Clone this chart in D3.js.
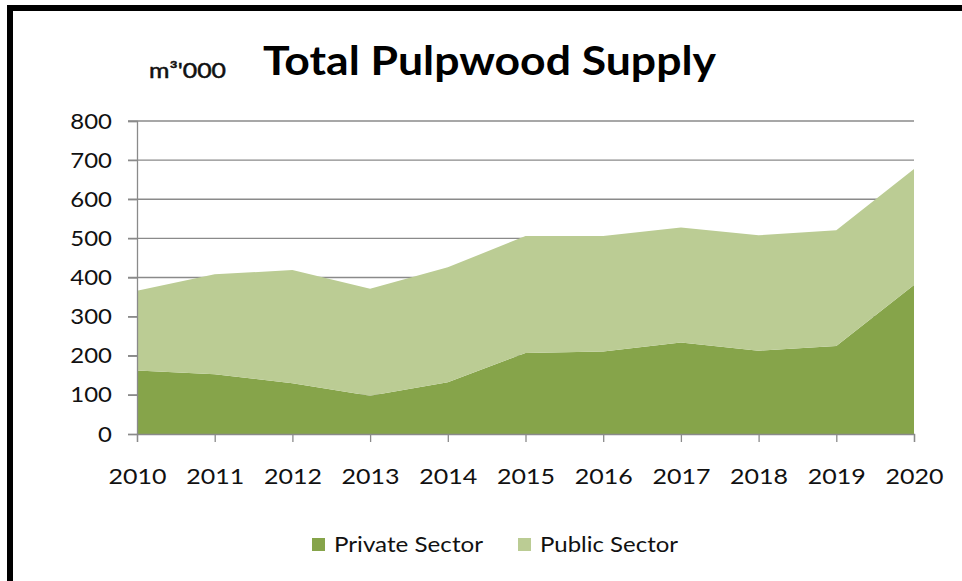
<!DOCTYPE html>
<html><head><meta charset="utf-8">
<script src="https://cdn.jsdelivr.net/npm/d3@7"></script>
<style>body{margin:0;background:#fff}svg{display:block}</style>
</head><body>
<svg id="c" width="962" height="581"></svg>
<script>
const years = [2010,2011,2012,2013,2014,2015,2016,2017,2018,2019,2020];
const privateSector = [162,153,130,98,132,207,211,234,213,225,381];
const publicSector = [204,255,289,273,294,299,295,294,295,296,296];
const yTicks = [0,100,200,300,400,500,600,700,800];
const seriesNames = ["Private Sector","Public Sector"];
const colors = ["#86A44A","#BBCC94"];

const svg = d3.select("#c");
const font = "Lato, 'Open Sans', sans-serif";

// frame
svg.append("rect").attr("x",10).attr("y",8).attr("width",980).attr("height",600)
  .attr("fill","none").attr("stroke","#000").attr("stroke-width",6);

const x = d3.scaleLinear().domain([2010,2020]).range([137,914]);
const y = d3.scaleLinear().domain([0,800]).range([434,121]);

const table = years.map((yr,i)=>({year:yr,"Private Sector":privateSector[i],"Public Sector":publicSector[i]}));
const stack = d3.stack().keys(seriesNames)(table);

// gridlines
svg.append("g").selectAll("line").data(yTicks.filter(d=>d>0)).join("line")
  .attr("x1",128).attr("x2",914).attr("y1",d=>y(d)).attr("y2",d=>y(d))
  .attr("stroke","#8a8a8a").attr("stroke-width",1.3);

const area = d3.area().x(d=>x(d.data.year)).y0(d=>y(d[0])).y1(d=>y(d[1]));
svg.append("g").selectAll("path").data(stack).join("path")
  .attr("d",area).attr("fill",(d,i)=>colors[i]);

// y axis
const ya = svg.append("g").attr("transform","translate(137,0)")
  .call(d3.axisLeft(y).tickValues(yTicks).tickSize(9).tickPadding(16).tickFormat(d3.format("d")));
ya.select(".domain").attr("stroke","#8a8a8a").attr("stroke-width",1.3);
ya.selectAll(".tick line").attr("stroke","#8a8a8a").attr("stroke-width",1.3);
ya.selectAll("text").attr("font-family",font).attr("font-size",22).attr("fill","#111")
  .attr("textLength",d=>String(d).length*13.9).attr("lengthAdjust","spacingAndGlyphs");

// x axis
const xa = svg.append("g").attr("transform","translate(0,434)")
  .call(d3.axisBottom(x).tickValues(years).tickSize(8).tickPadding(26).tickFormat(d3.format("d")));
xa.select(".domain").attr("stroke","#8a8a8a").attr("stroke-width",1.3);
xa.selectAll(".tick line").attr("stroke","#8a8a8a").attr("stroke-width",1.3);
xa.selectAll("text").attr("font-family",font).attr("font-size",22).attr("fill","#111")
  .attr("textLength",58).attr("lengthAdjust","spacingAndGlyphs");

// title
svg.append("text").attr("x",263).attr("y",75).attr("font-family",font)
  .attr("font-weight","bold").attr("font-size",41).attr("fill","#000")
  .attr("textLength",453).attr("lengthAdjust","spacingAndGlyphs")
  .text("Total Pulpwood Supply");
svg.append("text").attr("x",149).attr("y",78).attr("font-family",font)
  .attr("font-weight","normal").attr("font-size",21).attr("fill","#111")
  .attr("stroke","#111").attr("stroke-width",0.5)
  .attr("textLength",77).attr("lengthAdjust","spacingAndGlyphs")
  .text("m³'000");

// legend
const legX = [312,518];
const legTextW = [149,138];
const lg = svg.append("g").selectAll("g").data(seriesNames).join("g")
  .attr("transform",(d,i)=>`translate(${legX[i]},538)`);
lg.append("rect").attr("width",13).attr("height",13).attr("fill",(d,i)=>colors[i]);
lg.append("text").attr("x",22).attr("y",14).attr("font-family",font).attr("font-size",22)
  .attr("fill","#111").attr("textLength",(d,i)=>legTextW[i]).attr("lengthAdjust","spacingAndGlyphs")
  .text(d=>d);
</script>
</body></html>
